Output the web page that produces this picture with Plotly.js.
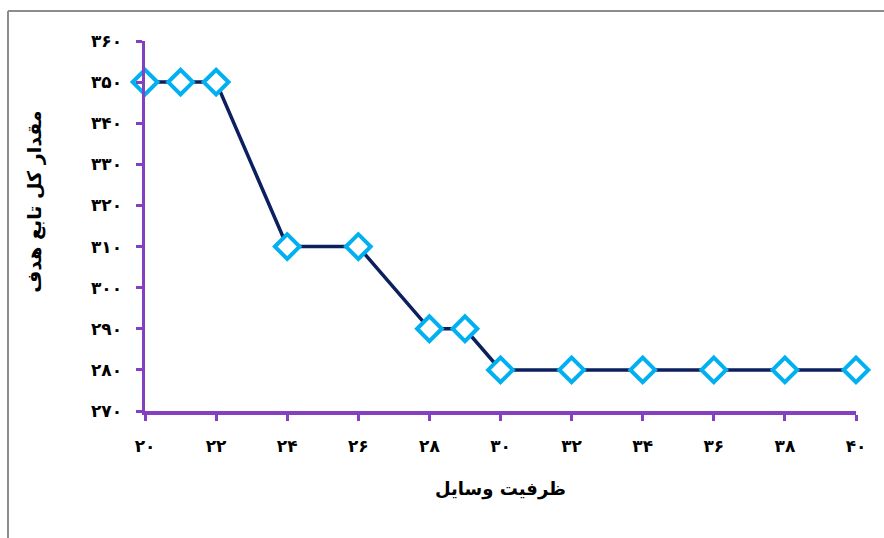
<!DOCTYPE html>
<html>
<head>
<meta charset="utf-8">
<script src="https://cdn.plot.ly/plotly-3.0.1.min.js"></script>
<style>html,body{margin:0;padding:0;background:#fff;}#chart{width:884px;height:538px;}</style>
</head>
<body>
<div id="chart"></div>
<script>
const capacity = [20, 21, 22, 24, 26, 28, 29, 30, 32, 34, 36, 38, 40];
const objective = [350, 350, 350, 310, 310, 290, 290, 280, 280, 280, 280, 280, 280];
const xTickVals = [20, 22, 24, 26, 28, 30, 32, 34, 36, 38, 40];
const yTickVals = [270, 280, 290, 300, 310, 320, 330, 340, 350, 360];
const xTitle = 'ظرفیت وسایل';
const yTitle = 'مقدار کل تابع هدف';

function fa(n) {
  const d = '۰۱۲۳۴۵۶۷۸۹';
  return String(n).replace(/[0-9]/g, c => d[+c]);
}

const purple = '#8440c0';
const fontFam = '"DejaVu Sans", "Noto Sans", Arial, sans-serif';

const trace = {
  x: capacity, y: objective, type: 'scatter', mode: 'lines+markers',
  line: {color: '#0c1f5e', width: 3.5},
  marker: {symbol: 'diamond', size: 19, color: '#ffffff', line: {color: '#00b0f0', width: 4}},
  cliponaxis: false, hoverinfo: 'skip'
};

const layout = {
  width: 884, height: 538,
  margin: {l: 145, r: 28, t: 41, b: 127},
  paper_bgcolor: '#ffffff', plot_bgcolor: '#ffffff',
  showlegend: false,
  font: {family: fontFam, color: '#000'},
  xaxis: {
    range: [20, 40], tickvals: xTickVals, ticktext: xTickVals.map(v => '<b>' + fa(v) + '</b>'),
    showgrid: false, zeroline: false, showline: true, linecolor: purple, linewidth: 3.5,
    ticks: 'outside', ticklen: 6, tickwidth: 3, tickcolor: purple, ticklabelstandoff: 11,
    tickfont: {size: 17, family: fontFam},
    title: {text: '<b>' + xTitle + '</b>', font: {size: 18, family: fontFam}, standoff: 28}
  },
  yaxis: {
    range: [270, 360], tickvals: yTickVals, ticktext: yTickVals.map(v => '<b>' + fa(v) + '</b>'),
    showgrid: false, zeroline: false, showline: true, linecolor: purple, linewidth: 3.5,
    ticks: 'outside', ticklen: 6, tickwidth: 3, tickcolor: purple, ticklabelstandoff: 10,
    tickfont: {size: 17, family: fontFam}
  },
  annotations: [
    {text: '<b>' + yTitle + '</b>', xref: 'paper', yref: 'paper', x: -0.155, y: 0.565,
     xanchor: 'center', yanchor: 'middle', textangle: -90, showarrow: false,
     font: {size: 19, family: fontFam, color: '#000'}}
  ],
  shapes: [
    {type: 'line', xref: 'paper', yref: 'paper', x0: -0.1927, x1: -0.1927, y0: -0.35, y1: 1.081,
     line: {color: '#8c8c8c', width: 2}},
    {type: 'line', xref: 'paper', yref: 'paper', x0: -0.1927, x1: 1.05, y0: 1.081, y1: 1.081,
     line: {color: '#8c8c8c', width: 2}}
  ]
};

Plotly.newPlot('chart', [trace], layout, {displayModeBar: false, staticPlot: true});
</script>
</body>
</html>
